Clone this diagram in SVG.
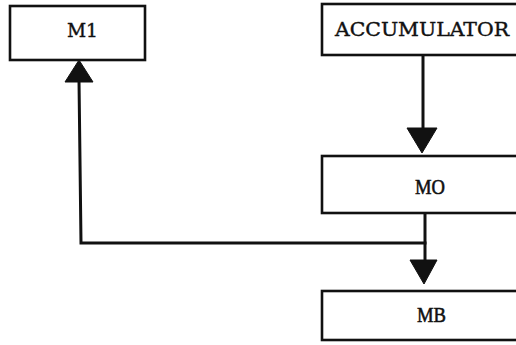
<svg xmlns="http://www.w3.org/2000/svg" width="516" height="345" viewBox="0 0 516 345">
  <style>
    .box { fill: #ffffff; stroke: #111111; stroke-width: 2.6; }
    .wire { fill: none; stroke: #111111; stroke-width: 3; stroke-linecap: square; }
    .head { fill: #111111; stroke: #111111; stroke-width: 1; stroke-linejoin: round; }
    .tw { font-family: "DejaVu Serif", "Liberation Serif", serif; font-size: 19px; fill: #111111; stroke: #111111; stroke-width: 0.4; }
    .rm { font-family: "Liberation Serif", "Times New Roman", serif; font-size: 22px; fill: #111111; stroke: #111111; stroke-width: 0.6; }
  </style>
  <rect width="516" height="345" fill="#ffffff"/>

  <g id="connectors">
    <!-- ACCUMULATOR down to MO -->
    <line class="wire" x1="423" y1="56" x2="423" y2="130"/>
    <polygon class="head" points="407,128 437,128 422,153"/>
    <!-- MO down to MB, with branch back to M1 -->
    <line class="wire" x1="425" y1="213" x2="425" y2="262"/>
    <polygon class="head" points="410,260 437,260 424,284"/>
    <polyline class="wire" points="425,243 81,243 79,80"/>
    <polygon class="head" points="65,82 93,82 79,60"/>
  </g>

  <g id="node-m1">
    <rect class="box" x="10" y="6" width="135" height="54"/>
    <text class="tw" x="67" y="37" textLength="31" lengthAdjust="spacingAndGlyphs">M1</text>
  </g>

  <g id="node-accumulator">
    <rect class="box" x="322" y="4" width="200" height="51"/>
    <text class="tw" x="335" y="36" textLength="174" lengthAdjust="spacingAndGlyphs">ACCUMULATOR</text>
  </g>

  <g id="node-mo">
    <rect class="box" x="322" y="156" width="200" height="57"/>
    <text class="rm" x="415" y="194" textLength="30" lengthAdjust="spacingAndGlyphs">MO</text>
  </g>

  <g id="node-mb">
    <rect class="box" x="322" y="291" width="200" height="49"/>
    <text class="rm" x="417" y="322" textLength="29" lengthAdjust="spacingAndGlyphs">MB</text>
  </g>
</svg>
